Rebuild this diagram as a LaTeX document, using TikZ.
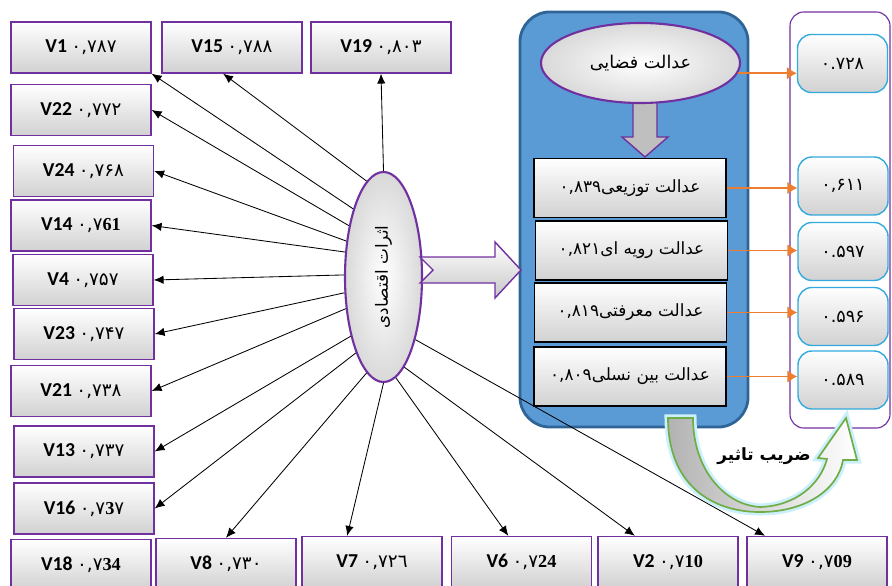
\documentclass[tikz,border=0pt]{standalone}
\usepackage{fontspec}
\usepackage{graphicx}
\setmainfont{Carlito}
\newfontfamily\fafont[Script=Arabic]{DejaVu Sans}
\newfontfamily\serifnum{Liberation Serif}
\TeXXeTstate=1
\usetikzlibrary{arrows.meta,shapes.geometric}

\definecolor{vio}{HTML}{7030A0}
\definecolor{skyb}{HTML}{5B9BD5}
\definecolor{darkb}{HTML}{2F6496}
\definecolor{orng}{HTML}{ED7D31}
\definecolor{cyanb}{HTML}{33AADD}
\definecolor{grn}{HTML}{70AD47}

\newcommand{\fa}[1]{{\fafont\beginR #1\endR}}
\newcommand{\vlab}[2]{\textbf{#1} {\fafont\fontsize{13}{15}\selectfont #2}}
\newcommand{\sn}[1]{{\serifnum\bfseries #1}}

\tikzset{
  vbox/.style={rectangle, draw=vio, line width=1pt, top color=white, middle color=white, bottom color=black!18, minimum width=3.5cm, minimum height=1.275cm, inner sep=0pt, font=\fontsize{14}{16}\selectfont},
  jbox/.style={rectangle, draw=black, line width=1pt, top color=white, middle color=white, bottom color=black!18, minimum width=4.8cm, minimum height=1.475cm, inner sep=0pt, font=\fafont\fontsize{12}{14}\selectfont},
  cbox/.style={rectangle, rounded corners=0.35cm, draw=cyanb, line width=1pt, top color=white, middle color=white, bottom color=black!18, minimum width=2.25cm, minimum height=1.45cm, inner sep=0pt, font=\fafont\fontsize{12.5}{14}\selectfont},
  oval/.style={ellipse, draw=vio, line width=1.5pt, inner color=white, outer color=black!15, inner sep=0pt},
  ray/.style={->, line width=0.6pt},
  link/.style={-{Latex[length=7pt,width=9pt]}, draw=orng, fill=orng, line width=1.2pt},
}

\begin{document}
\begin{tikzpicture}[x=0.025cm, y=-0.025cm, >={Latex[length=7pt,width=6pt]}]
  \clip (0,0) rectangle (892,585);

  % Justice box and loading column
  \node[rectangle, rounded corners=0.75cm, draw=darkb, line width=2pt, fill=skyb, minimum width=5.7cm, minimum height=10.375cm] (jb) at (634,219.5) {};
  \node[rectangle, rounded corners=0.35cm, draw=vio, line width=0.8pt, fill=white, minimum width=2.5cm, minimum height=10.4cm] (cb) at (840,220) {};

  \node[oval, minimum width=1.925cm, minimum height=5.25cm, font=\fafont\fontsize{12}{14}\selectfont] (ec) at (383.5,277) {\rotatebox{90}{\fa{اثرات اقتصادی}}}; % Economic effects

  % Indicator boxes
  \node[vbox] (v1) at (81,47.5) {\vlab{V1}{۰,۷۸۷}};
  \node[vbox] (v15) at (232,47.5) {\vlab{V15}{۰,۷۸۸}};
  \node[vbox] (v19) at (381,47.5) {\vlab{V19}{۰,۸۰۳}};
  \node[vbox] (v22) at (81,110) {\vlab{V22}{۰,۷۷۲}};
  \node[vbox] (v24) at (83.5,171) {\vlab{V24}{۰,۷۶۸}};
  \node[vbox] (v14) at (81,225.5) {\vlab{V14}{۰,۷\sn{61}}};
  \node[vbox] (v4) at (83,280) {\vlab{V4}{۰,۷۵۷}};
  \node[vbox] (v23) at (84,334) {\vlab{V23}{۰,۷۴۷}};
  \node[vbox] (v21) at (81,391) {\vlab{V21}{۰,۷۳۸}};
  \node[vbox] (v13) at (84,451.5) {\vlab{V13}{۰,۷۳۷}};
  \node[vbox] (v16) at (84,508.5) {\vlab{V16}{۰,۷\sn{3}۷}};
  \node[vbox] (v18) at (81,565) {\vlab{V18}{۰,۷\sn{34}}};
  \node[vbox] (v8) at (226,564) {\vlab{V8}{۰,۷۳۰}};
  \node[vbox] (v7) at (372,562) {\vlab{V7}{۰,۷۲٦}};
  \node[vbox] (v6) at (521.5,562) {\vlab{V6}{۰,۷\sn{24}}};
  \node[vbox] (v2) at (668,562) {\vlab{V2}{۰,۷\sn{10}}};
  \node[vbox] (v9) at (817,562) {\vlab{V9}{۰,۷\sn{09}}};

  \draw[ray] (ec.90) -- (v19.south);
  \draw[ray] (ec.100) -- ([xshift=-0.22cm]v15.south);
  \draw[ray] (ec.114) -- (v1.south east);
  \draw[ray] (ec.124) -- (v22.east);
  \draw[ray] (ec.136) -- (v24.east);
  \draw[ray] (ec.147) -- (v14.east);
  \draw[ray] (ec.177) -- (v4.east);
  \draw[ray] (ec.202) -- (v23.east);
  \draw[ray] (ec.220) -- (v21.east);
  \draw[ray] (ec.241) -- (v13.east);
  \draw[ray] (ec.250) -- (v16.east);
  \draw[ray] (ec.260) -- (v8.north);
  \draw[ray] (ec.270) -- ([xshift=-0.62cm]v7.north);
  \draw[ray] (ec.277) -- ([xshift=-0.33cm]v6.north);
  \draw[ray] (ec.283) -- ([xshift=-0.83cm]v2.north);
  \draw[ray] (ec.297) -- ([xshift=-1.3cm]v9.north);

  % Block arrow into the justice box
  \draw[vio, line width=1pt, top color=white, middle color=white, bottom color=black!22] (420,257) -- (495,257) -- (495,242) -- (521,270) -- (495,298) -- (495,283) -- (420,283) -- (433,270) -- cycle;

  % Justice dimensions
  \draw[vio, line width=1pt, left color=black!25, middle color=white, right color=black!25] (633,100) -- (657,100) -- (657,137) -- (668,137) -- (645,157) -- (622,137) -- (633,137) -- cycle;
  \node[oval, minimum width=4.975cm, minimum height=2cm, font=\fafont\fontsize{12.5}{14}\selectfont] (sp) at (640.5,63) {\fa{عدالت فضایی}};
  \node[jbox] (j1) at (630,188) {\fa{عدالت توزیعی\beginL۰,۸۳۹\endL}};
  \node[jbox] (j2) at (631.5,250.5) {\fa{عدالت رویه ای\beginL۰,۸۲۱\endL}};
  \node[jbox] (j3) at (630.5,312.5) {\fa{عدالت معرفتی\beginL۰,۸۱۹\endL}};
  \node[jbox] (j4) at (630,376.5) {\fa{عدالت بین نسلی\beginL۰,۸۰۹\endL}};

  % Effect coefficients
  \node[cbox] (c0) at (842.5,63.5) {۰.۷۲۸};
  \node[cbox] (c1) at (843,186) {۰,۶۱۱};
  \node[cbox] (c2) at (843,251.5) {۰.۵۹۷};
  \node[cbox] (c3) at (843,316.5) {۰.۵۹۶};
  \node[cbox] (c4) at (843,380) {۰.۵۸۹};

  \draw[link] (sp.-6) -- (sp.-6 -| c0.west);
  \draw[link] (j1.east) -- (j1.east -| c1.west);
  \draw[link] (j2.east) -- (j2.east -| c2.west);
  \draw[link] (j3.east) -- (j3.east -| c3.west);
  \draw[link] (j4.east) -- (j4.east -| c4.west);

  % Curved arrow
  \draw[grn, line width=1.2pt, left color=black!30, right color=white, preaction={draw=cyan!20, line width=5pt}] (668,418) .. controls (668,485) and (712,512) .. (760,512) .. controls (805,512) and (838,490) .. (843,460) -- (857,460) -- (846,418) -- (818,458) -- (827,459) .. controls (820,485) and (795,506) .. (760,507) .. controls (725,505) and (693,470) .. (693,418) -- cycle;
  \node[font=\fafont\bfseries\fontsize{12}{14}\selectfont] (lbl) at (764,456) {\fa{ضریب تاثیر}};
\end{tikzpicture}
\end{document}
